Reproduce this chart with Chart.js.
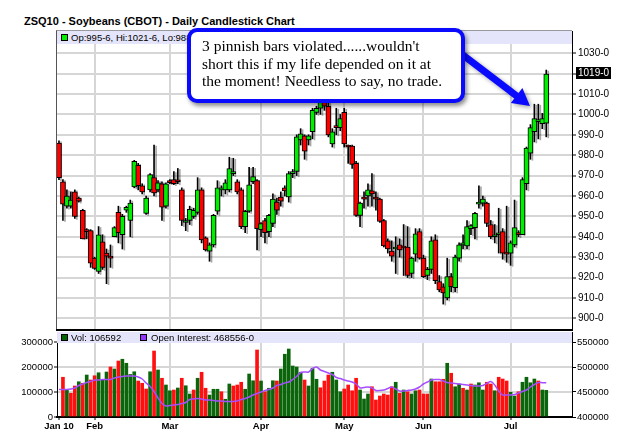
<!DOCTYPE html>
<html>
<head>
<meta charset="utf-8">
<script src="https://cdn.jsdelivr.net/npm/chart.js@4.4.0/dist/chart.umd.min.js"></script>
<style>
  body { margin: 0; width: 625px; height: 439px; background: #fff; position: relative; overflow: hidden;
         font-family: 'Liberation Sans', Arial, sans-serif; }
  #title { position: absolute; left: 24px; top: 15px; font-weight: bold; font-size: 11px; line-height: 12px; white-space: nowrap; }
  #mainWrap { position: absolute; left: 0; top: 0; width: 625px; height: 331px; }
  #volWrap { position: absolute; left: 0; top: 331px; width: 625px; height: 108px; }
  .strip { position: absolute; left: 57px; width: 515px; background: #e4e4fa; font-size: 9.5px; white-space: nowrap; overflow: hidden; }
  .strip span { position: absolute; top: 1px; }
  .sq { position: absolute; width: 5px; height: 5px; border: 1px solid #000; }
  #frame { position: absolute; left: 56px; top: 30px; width: 515px; height: 299px; border-left: 1px solid #555; border-top: 1px solid #999; }
  #sep { position: absolute; left: 56px; top: 329px; width: 517px; height: 2px; background: #000; }
  #callout { position: absolute; left: 187px; top: 28px; width: 278px; height: 75px; box-sizing: border-box;
             border: 4px solid #0a0aff; border-radius: 10px; background: #fff; box-shadow: 2px 3px 4px rgba(0,0,0,0.45); }
  #callout div { position: absolute; left: 11px; top: 5px; font-family: 'Liberation Serif', 'Times New Roman', serif;
                 font-size: 15.5px; line-height: 17.5px; white-space: nowrap; color: #000; }
</style>
</head>
<body>
<div id="title">ZSQ10 - Soybeans (CBOT) - Daily Candlestick Chart</div>
<div id="mainWrap"><canvas id="priceChart" width="625" height="331"></canvas></div>
<div id="volWrap"><canvas id="volChart" width="625" height="108"></canvas></div>
<div id="frame"></div>
<div id="sep"></div>
<div class="strip" style="top:31px;height:13px;">
  <div class="sq" style="left:4px;top:3px;background:#00ee00;"></div>
  <span style="left:14px;">Op:995-6, Hi:1021-6, Lo:988-4, Cl:1019-6</span>
</div>
<div class="strip" style="top:332px;height:11px;">
  <div class="sq" style="left:4px;top:2px;background:#006400;"></div>
  <span style="left:14px;top:0;">Vol: 106592</span>
  <div class="sq" style="left:83px;top:2px;background:#9933ff;"></div>
  <span style="left:94px;top:0;">Open Interest: 468556-0</span>
</div>
<svg width="625" height="439" style="position:absolute;left:0;top:0;filter:drop-shadow(2px 2px 2px rgba(0,0,0,0.35));">
  <line x1="455" y1="49" x2="518" y2="97" stroke="#0a0aff" stroke-width="7"/>
  <polygon points="530,106 510.8,103.1 522.4,88.1" fill="#0a0aff"/>
</svg>
<div id="callout"><div>3 pinnish bars violated......wouldn't<br>short this if my life depended on it at<br>the moment! Needless to say, no trade.</div></div>

<script>
// Dias de pregão (jan a jul 2010)
const monthNames = ['Jan', 'Feb', 'Mar', 'Apr', 'May', 'Jun', 'Jul'];
const monthTickLabels = ['Jan 10', 'Feb', 'Mar', 'Apr', 'May', 'Jun', 'Jul'];
const tradingDays = [
    [19, 20, 21, 22, 25, 26, 27, 28, 29],
    [1, 2, 3, 4, 5, 8, 9, 10, 11, 12, 16, 17, 18, 19, 22, 23, 24, 25, 26],
    [1, 2, 3, 4, 5, 8, 9, 10, 11, 12, 15, 16, 17, 18, 19, 22, 23, 24, 25, 26, 29, 30, 31],
    [1, 5, 6, 7, 8, 9, 12, 13, 14, 15, 16, 19, 20, 21, 22, 23, 26, 27, 28, 29, 30],
    [3, 4, 5, 6, 7, 10, 11, 12, 13, 14, 17, 18, 19, 20, 21, 24, 25, 26, 27, 28],
    [1, 2, 3, 4, 7, 8, 9, 10, 11, 14, 15, 16, 17, 18, 21, 22, 23, 24, 25, 28, 29, 30],
    [1, 2, 6, 7, 8, 9, 12, 13, 14, 15]
];

// Preços (OHLC)
const opens = [986, 967, 955, 955, 962, 959, 953, 943, 943, 929.5,
    923, 937.5, 932, 930, 940, 952, 941, 953, 948, 964.5,
    975, 965, 951.5, 963, 969, 963, 966, 955, 967.5, 968,
    967.5, 963, 947, 948, 950, 952, 963, 939.5, 933, 936,
    952.5, 963, 963, 963, 971, 967, 963, 945, 952.5, 967,
    967.5, 943.5, 948, 942.5, 946.5, 957, 959.5, 964, 959.5, 971,
    972, 987.5, 989.5, 987.5, 991.5, 1001, 1003, 1006, 1004, 985.5,
    994, 993.5, 1001, 984.5, 984.5, 976, 950.5, 959.5, 960, 962.5,
    959.5, 958.5, 948, 938, 933, 934, 936, 935, 935, 922,
    931.5, 942.5, 929.5, 921, 924, 938.5, 918, 915.5, 910, 920.5,
    915, 929.5, 936, 935.5, 944, 944.5, 956, 956.5, 956.5, 946,
    940, 941, 942.5, 932, 932, 936, 942, 941, 966, 981,
    991.5, 996.5, 995.5, 995.75];
const highs = [987, 968, 963, 962, 963, 959.5, 953.5, 944, 943.5, 930,
    945, 941, 934, 936, 945, 955, 951, 955, 958, 977.5,
    976, 966, 960, 971, 985, 967.5, 967, 966.5, 968, 972,
    973.5, 964, 949, 955, 954, 969, 964, 940, 937, 951,
    967.5, 965, 968, 979, 978.5, 968, 964, 953, 974, 974,
    968, 947, 949, 951, 961, 959, 962, 965, 972, 973,
    990, 993, 990, 990, 1003, 1004, 1008, 1009, 1006, 993,
    1003, 1000, 1003, 985, 985, 977, 957, 962, 966, 971,
    962, 959, 948.5, 939, 938, 940, 939, 946, 945, 930,
    944, 944, 931, 925, 940, 941, 921, 917, 929.5, 922,
    931, 937, 941, 948, 946, 952, 965, 960, 957, 948,
    946, 954, 944, 955, 938, 958, 943, 969, 984, 995,
    1005, 1005, 1000.5, 1021.75];
const lows = [968, 948, 954, 954, 949, 957, 939, 939, 925, 924,
    922, 924, 917, 925, 940, 937, 934, 952, 940, 964,
    963, 961, 951, 962, 960, 962, 948, 954, 966, 965.5,
    966, 945.5, 943, 946, 949, 951, 937, 933, 928, 935,
    951, 960, 961, 962, 970, 961, 944, 942, 952, 966,
    933.5, 940, 937, 940, 945, 951, 955, 960, 957, 969,
    970, 985, 978, 985, 988, 1000, 1000, 1002, 989, 984,
    990, 992, 984, 976, 973.5, 950, 945, 954, 955, 955,
    953, 947, 935, 932, 928, 922, 930, 921, 920, 920,
    928, 929, 920, 919, 922, 917, 913, 907, 909, 913,
    913, 928, 934, 934, 941, 939, 954, 955, 945, 939,
    937, 932, 929, 927.5, 926, 935, 940, 941, 963, 978,
    986.5, 988, 993, 989];
const closes = [969, 956, 960, 958, 950, 957.5, 939, 942.5, 927, 924.5,
    941, 925, 930.5, 929.5, 944.5, 942, 950, 954.5, 956.5, 977,
    965, 962, 959, 970.5, 961.5, 966.5, 954.5, 966, 966.5, 966,
    967, 948, 948, 953.5, 953, 963, 938.5, 933.5, 936, 950.5,
    964, 964, 966.5, 973.5, 971.5, 962, 945, 952.5, 965.5, 969.5,
    944, 946.5, 942, 950.5, 958.5, 953, 957.5, 962.5, 971, 971.5,
    989, 990.5, 982, 989.5, 1002, 1003, 1006, 1004, 990, 991.5,
    993.5, 998, 985.5, 984, 975.5, 950.5, 956.5, 958.5, 963, 961,
    958.5, 947.5, 935.5, 934, 930.5, 935, 933.5, 934.5, 921, 929.5,
    941.5, 929.5, 920.5, 924, 938, 918.5, 914, 912.5, 920.5, 915.5,
    930, 936, 937, 945, 945.5, 951.5, 957, 958.5, 946.5, 940,
    941, 941.5, 932, 931.5, 937, 944.5, 941, 968, 983.5, 993.5,
    998, 997, 998, 1019.75];

// Volume e contratos em aberto
const volumes = [null, 159000, 108000, 95000, 124000, 141000, 135000, 168000, 148000, 165000, 177000,
    150000, 180000, 200000, 192000, 224000, 231000, 215000, 170000, 181000, 144000,
    135000, 112000, 181000, 264000, 188000, 155000, 128000, 105000, 108000, 116000,
    155000, 125000, 92000, 108000, 155000, 179000, 115000, 88000, 111000, 111000,
    101000, 71000, 132000, 124000, 128000, 139000, 111000, 172000, 145000, 268000,
    144000, 101000, 115000, 145000, 144000, 192000, 251000, 272000, 204000, 200000,
    179000, 148000, 124000, 195000, 151000, 117000, 144000, 168000, 179000, 148000,
    101000, 112000, 128000, 105000, 155000, 108000, 72000, 92000, 121000, 68000,
    84000, 92000, 88000, 121000, 139000, 95000, 108000, 101000, 92000, 105000,
    108000, 92000, 92000, 152000, 141000, 141000, 151000, 215000, 175000, 121000,
    132000, 115000, 108000, 132000, 128000, 137000, 108000, 139000, 132000, 105000,
    159000, 152000, 144000, 99000, 84000, 101000, 139000, 159000, 137000, 152000,
    144000, 108000, 106592];
// u = dia de alta, d = dia de baixa
const volumeDirection = ('-' + 'duddududdu' + 'uududuuuud' + 'ddududuudu' + 'duududduuu' + 'duuddduuud' +
    'uduuduuuuu' + 'uduuuddduu' + 'udddduuudd' + 'ddddududuu' + 'dddudddudu' +
    'ududuuuddu' + 'ddduuduuuu' + 'duu').split('');
const openInterest = [455000, 455000, 455000, 456000, 458000, 463000, 466000, 469000, 471000, 474000,
    474000, 475000, 475000, 475000, 478000, 480000, 481000, 482000, 482000, 482000,
    480000, 476000, 468000, 461000, 451000, 438000, 427000, 422000, 423000, 424000,
    425000, 427000, 429000, 435000, 436000, 437000, 436000, 434000, 434000, 433000,
    432000, 432000, 431000, 431000, 431000, 432000, 435000, 437000, 440000, 444000,
    447000, 450000, 453000, 455000, 458000, 463000, 465000, 468000, 470000, 475000,
    481000, 489000, 490000, 490000, 497000, 500000, 494000, 491000, 488000, 485000,
    479000, 477000, 474000, 472000, 470000, 466000, 458000, 459000, 460000, 458000,
    453000, 453000, 454000, 457000, 460000, 456000, 452000, 452000, 453000, 454000,
    456000, 460000, 466000, 470000, 474000, 475000, 475000, 472000, 469000, 468000,
    467000, 466000, 465000, 464000, 463000, 462000, 462000, 463000, 467000, 471000,
    464000, 452000, 444000, 444000, 444000, 445000, 448000, 451000, 454000, 460000,
    465000, 469000, 468600, 468556];

// Marcas dos eixos
const priceTicks = [900, 910, 920, 930, 940, 950, 960, 970, 980, 990, 1000, 1010, 1020, 1030];
const volumeTicks = [0, 100000, 200000, 300000];
const oiTicks = [400000, 450000, 500000, 550000];
const lastPriceLabel = '1019-0';

// Rótulos do eixo X
const labels = [];
const monthStart = {};
tradingDays.forEach((days, m) => {
    monthStart[labels.length] = monthTickLabels[m];
    days.forEach(d => labels.push(monthNames[m] + ' ' + d));
});
// espaço livre à direita do último pregão
for (let k = 0; k < 6; k++) labels.push('');

Chart.defaults.font.family = "'Liberation Sans', Arial, sans-serif";
Chart.defaults.color = '#000';

const monthGrid = (c) => (monthStart[c.index] && c.index > 0) ? '#d6d6d6' : 'rgba(0,0,0,0)';

// Sombra das velas
const shadowPlugin = {
    id: 'shadow',
    beforeDatasetDraw(chart, args) {
        chart.ctx.save();
        chart.ctx.shadowColor = 'rgba(0,0,0,0.35)';
        chart.ctx.shadowOffsetX = 2;
        chart.ctx.shadowOffsetY = 1;
    },
    afterDatasetDraw(chart) {
        chart.ctx.restore();
    }
};

// Etiqueta do último preço
const lastPricePlugin = {
    id: 'lastPrice',
    afterDraw(chart) {
        const ctx = chart.ctx;
        const y = chart.scales.y.getPixelForValue(closes[closes.length - 1]);
        const x = chart.chartArea.right + 4;
        ctx.save();
        ctx.fillStyle = '#000';
        ctx.fillRect(x, Math.round(y) - 7, 35, 12);
        ctx.fillStyle = '#fff';
        ctx.font = "10px 'Liberation Sans', Arial";
        ctx.textBaseline = 'middle';
        ctx.fillText(lastPriceLabel, x + 2, Math.round(y) - 1);
        ctx.restore();
    }
};

const bodies = opens.map((o, i) => [o, closes[i]]);
const wicks = lows.map((l, i) => [l, highs[i]]);
const bodyColors = opens.map((o, i) => closes[i] >= o ? '#00ee00' : '#ff0000');

const priceChart = new Chart(document.getElementById('priceChart'), {
    type: 'bar',
    data: {
        labels: labels,
        datasets: [{
            label: 'Corpo',
            data: bodies,
            backgroundColor: bodyColors,
            borderColor: '#000',
            borderWidth: 1,
            borderSkipped: false,
            barThickness: 5,
            minBarLength: 2,
            grouped: false,
            order: 0
        }, {
            label: 'Pavio',
            data: wicks,
            backgroundColor: '#000',
            barThickness: 1,
            grouped: false,
            order: 1
        }]
    },
    options: {
        responsive: false,
        animation: false,
        layout: { padding: { left: 57, top: 31, right: 0, bottom: 0 } },
        plugins: { legend: { display: false }, tooltip: { enabled: false } },
        scales: {
            x: {
                offset: true,
                grid: { offset: false, color: monthGrid, lineWidth: 2, drawTicks: false },
                ticks: { display: false, autoSkip: false },
                border: { display: false },
                afterFit: s => { s.paddingLeft = 0; s.paddingRight = 0; }
            },
            y: {
                position: 'right',
                min: 893.8,
                max: 1040.9,
                afterBuildTicks: s => { s.ticks = priceTicks.map(v => ({ value: v })); },
                afterFit: s => { s.width = 53; s.paddingTop = 0; s.paddingBottom = 0; },
                grid: { color: '#d6d6d6', lineWidth: 2, tickColor: '#000', tickLength: 4, tickWidth: 1 },
                border: { color: '#000', width: 1 },
                ticks: {
                    padding: 2,
                    font: { size: 10 },
                    callback: v => v === 1020 ? '' : v + '-0'
                }
            }
        }
    },
    plugins: [shadowPlugin, lastPricePlugin]
});

const volChart = new Chart(document.getElementById('volChart'), {
    type: 'bar',
    data: {
        labels: labels,
        datasets: [{
            type: 'line',
            label: 'Open Interest',
            data: openInterest,
            yAxisID: 'yOI',
            borderColor: '#a64dff',
            borderWidth: 1.5,
            pointRadius: 0,
            tension: 0.3,
            order: 0
        }, {
            label: 'Vol',
            data: volumes,
            yAxisID: 'yVol',
            backgroundColor: volumeDirection.map(d => d === 'u' ? '#0b650b' : '#ff1010'),
            barThickness: 3,
            order: 1
        }]
    },
    options: {
        responsive: false,
        animation: false,
        layout: { padding: { left: 0, top: 1, right: 0, bottom: 0 } },
        plugins: { legend: { display: false }, tooltip: { enabled: false } },
        scales: {
            x: {
                offset: true,
                grid: {
                    offset: false, color: monthGrid, lineWidth: 2,
                    tickColor: c => monthStart[c.index] ? '#000' : 'rgba(0,0,0,0)', tickLength: 3, tickWidth: 1
                },
                border: { color: '#000', width: 2 },
                ticks: {
                    autoSkip: false, maxRotation: 0, minRotation: 0, padding: 1,
                    font: { size: 9.5, weight: 'bold' },
                    callback: (v, i) => monthStart[i] || ''
                },
                afterFit: s => { s.height = 22; s.paddingLeft = 0; s.paddingRight = 0; }
            },
            yVol: {
                position: 'left',
                min: 0,
                max: 340000,
                afterBuildTicks: s => { s.ticks = volumeTicks.map(v => ({ value: v })); },
                afterFit: s => { s.width = 57; s.paddingTop = 0; s.paddingBottom = 0; },
                grid: { color: '#d6d6d6', lineWidth: 2, tickColor: '#000', tickLength: 3, tickWidth: 1 },
                border: { color: '#000', width: 1 },
                ticks: { padding: 1, font: { size: 9.5 }, callback: v => String(v) }
            },
            yOI: {
                position: 'right',
                min: 400000,
                max: 570000,
                afterBuildTicks: s => { s.ticks = oiTicks.map(v => ({ value: v })); },
                afterFit: s => { s.width = 53; s.paddingTop = 0; s.paddingBottom = 0; },
                grid: { drawOnChartArea: false, tickColor: '#000', tickLength: 4, tickWidth: 1 },
                border: { color: '#000', width: 1 },
                ticks: { padding: 1, font: { size: 9.5 }, callback: v => String(v) }
            }
        }
    }
});
</script>
</body>
</html>
